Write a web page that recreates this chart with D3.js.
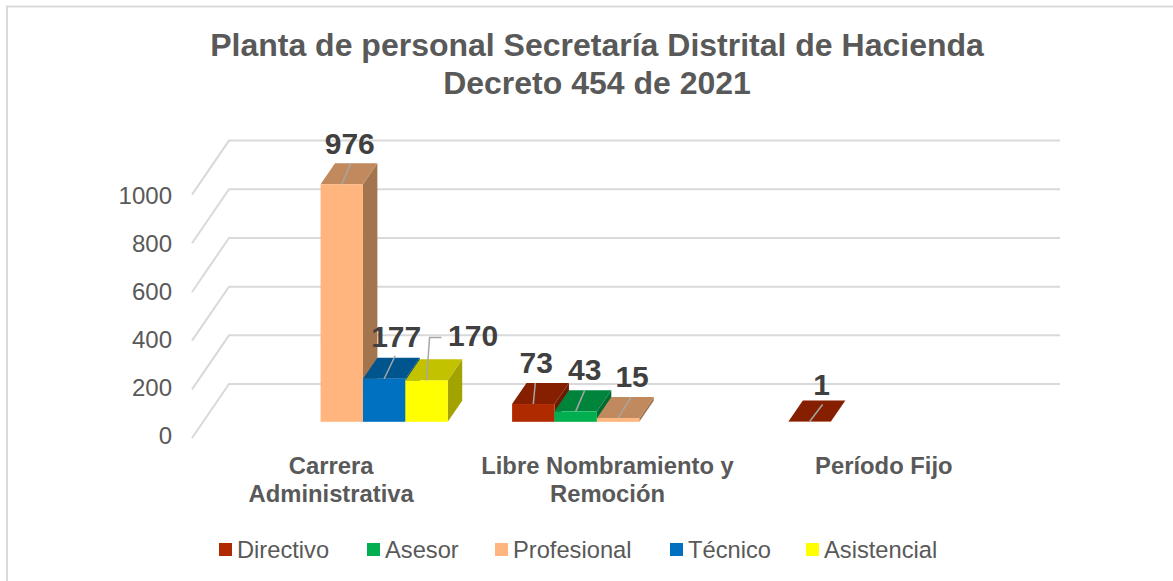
<!DOCTYPE html>
<html><head><meta charset="utf-8">
<script src="https://cdn.jsdelivr.net/npm/d3@7"></script>
<style>html,body{margin:0;padding:0;background:#fff}svg{display:block}text{font-family:"Liberation Sans",Arial,sans-serif}</style>
</head><body><svg id="c" width="1173" height="581"></svg>
<script>
const titleLines = ["Planta de personal Secretaría Distrital de Hacienda", "Decreto 454 de 2021"];
const categories = ["Carrera Administrativa", "Libre Nombramiento y Remoción", "Período Fijo"];
const categoryLines = [["Carrera", "Administrativa"], ["Libre Nombramiento y", "Remoción"], ["Período Fijo"]];
const seriesNames = ["Directivo", "Asesor", "Profesional", "Técnico", "Asistencial"];
const directivo = [null, 73, 1];
const asesor = [null, 43, null];
const profesional = [976, 15, null];
const tecnico = [177, null, null];
const asistencial = [170, null, null];
const yTicks = [0, 200, 400, 600, 800, 1000];

const seriesValues = [directivo, asesor, profesional, tecnico, asistencial];
const faceColors = ["#B02A00", "#00B050", "#FFB57D", "#0070C0", "#FFFF00"];
const topColors = ["#861F00", "#00843C", "#C08A5E", "#00558F", "#C2C200"];
const sideColors = ["#6E1A00", "#006B31", "#A3754F", "#004675", "#A3A300"];

// leader and label placement, relative to the front-centre of each bar's top edge
const labelLayout = {
  "2-0": {pts: [[9, -21]], tx: 8, ty: -30},
  "3-0": {pts: [[11, -23]], tx: 12, ty: -32},
  "4-0": {pts: [[3, -43], [15, -43]], tx: 46.5, ty: -34},
  "0-1": {pts: [[2, -21]], tx: 3, ty: -31},
  "1-1": {pts: [[9, -21]], tx: 9, ty: -31},
  "2-1": {pts: [[13, -21]], tx: 14, ty: -31},
  "0-2": {pts: [[13, -17]], tx: 12, ty: -27}
};

const svg = d3.select("#c");
const y = d3.scaleLinear().domain([0, 1000]).range([438, 194.6]);
const yLabel = d3.scaleLinear().domain([0, 1000]).range([444, 203.5]);
const x = d3.scaleBand().domain(categories).range([192, 1021]);
const sx = d3.scaleBand().domain(seriesNames).range([0, 212]);
const depthX = d3.scaleLinear().domain([0, 1]).range([0, 37]);
const depthY = d3.scaleLinear().domain([0, 1]).range([0, -54]);
const barZ0 = 0.3, barZ1 = 0.69, groupShift = 0.5;
const frontRight = 1023;

// chart frame (left and top edges only are in view)
svg.append("path").attr("d", "M7,581V6.5H1173").attr("fill", "none").attr("stroke", "#D9D9D9").attr("stroke-width", 2);

// walls
const grid = svg.append("g").attr("fill", "none").attr("stroke", "#D9D9D9").attr("stroke-width", 2);
yTicks.forEach(t => {
  grid.append("path").attr("d", d3.line()([
    [x.range()[0], y(t)],
    [x.range()[0] + depthX(1), y(t) + depthY(1)],
    [frontRight + depthX(1), y(t) + depthY(1)]
  ]));
});

// y axis labels
svg.append("g").selectAll("text").data(yTicks).join("text")
  .attr("x", 172).attr("y", d => yLabel(d)).attr("text-anchor", "end")
  .attr("font-size", 24).attr("fill", "#595959").text(d => d);

// bars
const bars = svg.append("g");
const labelItems = [];
seriesNames.forEach((s, si) => {
  categories.forEach((c, ci) => {
    const v = seriesValues[si][ci];
    if (v === null) return;
    const groupLeft = x(c) + x.bandwidth() / 2 - sx.range()[1] / 2 + depthX(barZ0) + groupShift;
    const x0 = groupLeft + sx(s), x1 = x0 + sx.bandwidth();
    const yBase = y(0) + depthY(barZ0), yTop = y(v) + depthY(barZ0);
    const ddx = depthX(barZ1 - barZ0), ddy = depthY(barZ1 - barZ0);
    const poly = pts => d3.line()(pts) + "Z";
    bars.append("path").attr("d", poly([[x1, yTop], [x1 + ddx, yTop + ddy], [x1 + ddx, yBase + ddy], [x1, yBase]])).attr("fill", sideColors[si]);
    bars.append("path").attr("d", poly([[x0, yTop], [x0 + ddx, yTop + ddy], [x1 + ddx, yTop + ddy], [x1, yTop]])).attr("fill", topColors[si]);
    bars.append("rect").attr("x", x0).attr("y", yTop).attr("width", x1 - x0).attr("height", yBase - yTop).attr("fill", faceColors[si]);
    labelItems.push({v, cx: (x0 + x1) / 2, yTop, key: si + "-" + ci});
  });
});

// leaders and data labels
const labels = svg.append("g");
labelItems.forEach(d => {
  const l = labelLayout[d.key];
  labels.append("path").attr("fill", "none").attr("stroke", "#A6A6A6").attr("stroke-width", 1.5)
    .attr("d", d3.line()([[d.cx, d.yTop], ...l.pts.map(p => [d.cx + p[0], d.yTop + p[1]])]));
  labels.append("text").attr("x", d.cx + l.tx).attr("y", d.yTop + l.ty).attr("text-anchor", "middle")
    .attr("font-size", 30).attr("font-weight", "bold").attr("fill", "#404040").text(d.v);
});

// category labels
categories.forEach((c, i) => {
  categoryLines[i].forEach((line, j) => {
    svg.append("text").attr("x", x(c) + x.bandwidth() / 2 + 1).attr("y", 474 + j * 28).attr("text-anchor", "middle")
      .attr("font-size", 23.8).attr("font-weight", "bold").attr("fill", "#595959").text(line);
  });
});

// title
titleLines.forEach((t, i) => {
  svg.append("text").attr("x", 597).attr("y", 56 + i * 38).attr("text-anchor", "middle")
    .attr("font-size", 32).attr("font-weight", "bold").attr("fill", "#595959").text(t);
});

// legend
const legendX = d3.scaleOrdinal().domain(seriesNames).range([219, 367, 495, 670, 806]);
const lg = svg.append("g").selectAll("g").data(seriesNames).join("g")
  .attr("transform", d => `translate(${legendX(d)},0)`);
lg.append("rect").attr("y", 543).attr("width", 13).attr("height", 13).attr("fill", (d, i) => faceColors[i]);
lg.append("text").attr("x", 18).attr("y", 558).attr("font-size", 23.7).attr("fill", "#595959").text(d => d);
</script></body></html>
